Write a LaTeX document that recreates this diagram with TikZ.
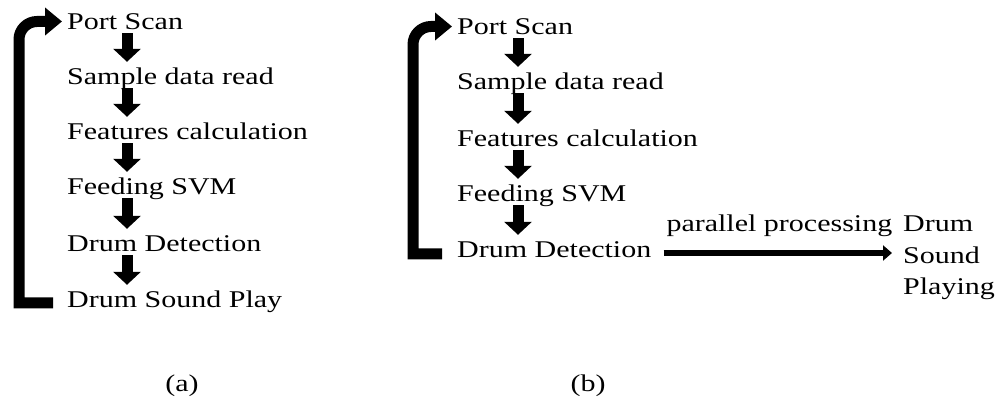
\documentclass[tikz,border=0pt]{standalone}
\usepackage{fontspec}
\setmainfont{Liberation Serif}[FakeStretch=1.25]
\usetikzlibrary{arrows.meta,positioning}

\begin{document}
\begin{tikzpicture}[x=1pt, y=-1pt, line join=miter,
      every node/.style={inner sep=0pt, anchor=base west,
        font=\fontsize{24}{31.5}\selectfont, text height=20pt, text depth=3pt},
      stepdown/.style={line width=11pt, shorten >=3pt,
        -{Triangle[width=27pt,length=13pt]}},
      loopback/.style={line width=11pt, -{Triangle[width=27pt,length=17pt]}},
      parallel/.style={line width=6pt, shorten >=11pt,
        -{Triangle[width=15pt,length=9pt]}},
      caption/.style={anchor=center}]
      \useasboundingbox (0,0) rectangle (999,403);
      % (a) sequential loop
      \node (ps)  at (67,30)  {Port Scan};
      \node (sd)  at (67,85)  {Sample data read};
      \node (fc)  at (67,140) {Features calculation};
      \node (fs)  at (67,195) {Feeding SVM};
      \node (dd)  at (67,252) {Drum Detection};
      \node (dsp) at (67,308) {Drum Sound Play};
      \foreach \a/\b in {ps/sd, sd/fc, fc/fs, fs/dd, dd/dsp}
        \draw [stepdown] ([xshift=60pt]\a.south west) -- ([xshift=60pt]\b.north west);
      \coordinate (la) at ([xshift=-14pt,yshift=-3.5pt]dsp.west);
      \coordinate (lb) at ([xshift=-48pt]ps.west);
      \draw [loopback] (la) -- (la -| lb) [rounded corners=18pt] -- (lb)
        -- ([xshift=-5pt]ps.west);
      % (b) with parallel sound
      \node (ps2) at (457,35)  {Port Scan};
      \node (sd2) at (457,90)  {Sample data read};
      \node (fc2) at (457,147) {Features calculation};
      \node (fs2) at (457,202) {Feeding SVM};
      \node (dd2) at (457,258) {Drum Detection};
      \node (dsp2) [align=left, text height={}, text depth={}] at (903,295) {Drum\\Sound\\Playing};
      \foreach \a/\b in {ps2/sd2, sd2/fc2, fc2/fs2, fs2/dd2}
        \draw [stepdown] ([xshift=61pt]\a.south west) -- ([xshift=61pt]\b.north west);
      \coordinate (ra) at ([xshift=-15pt,yshift=-4.5pt]dd2.west);
      \coordinate (rb) at ([xshift=-44pt]ps2.west);
      \draw [loopback] (ra) -- (ra -| rb) [rounded corners=18pt] -- (rb)
        -- ([xshift=-5pt]ps2.west);
      \coordinate (pp) at ([xshift=12pt,yshift=-3.5pt]dd2.east);
      \draw [parallel] (pp) -- (pp -| dsp2.west)
        node [pos=0, anchor=base west, yshift=21pt] {parallel processing};
      % captions
      \node [caption] (capa) at (182,383) {(a)};
      \node [caption] (capb) at (588,383) {(b)};
    \end{tikzpicture}
\end{document}
